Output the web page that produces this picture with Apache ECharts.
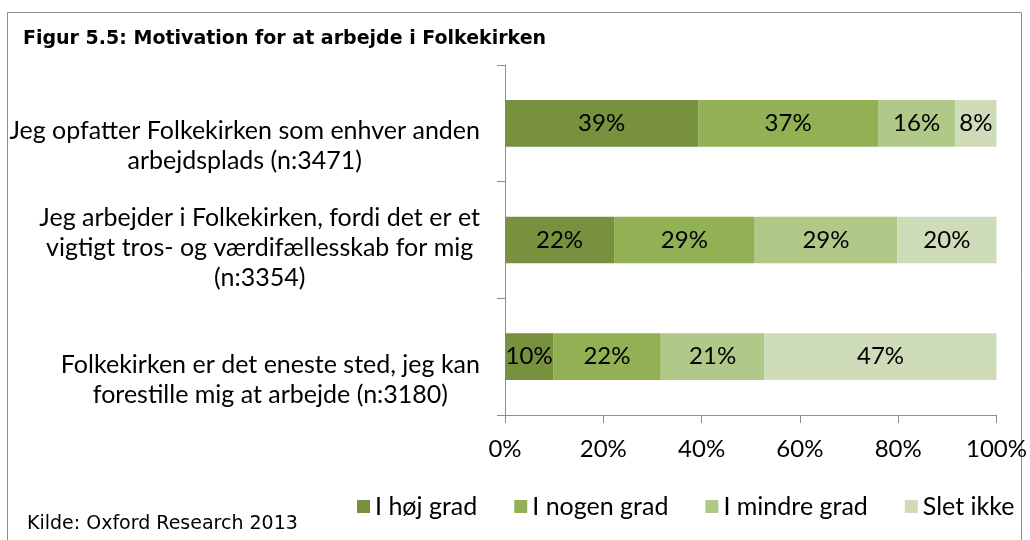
<!DOCTYPE html>
<html>
<head>
<meta charset="utf-8">
<script src="https://cdn.jsdelivr.net/npm/echarts@6/dist/echarts.min.js"></script>
<style>
html,body{margin:0;padding:0;background:#fff;}
#chart{width:1030px;height:540px;}
</style>
</head>
<body>
<div id="chart"></div>
<script>
var categories = [
	"Jeg opfatter Folkekirken som enhver anden\narbejdsplads (n:3471)",
	"Jeg arbejder i Folkekirken, fordi det er et\nvigtigt tros- og værdifællesskab for mig\n(n:3354)",
	"Folkekirken er det eneste sted, jeg kan\nforestille mig at arbejde (n:3180)"
];
var seriesNames = ["I høj grad", "I nogen grad", "I mindre grad", "Slet ikke"];
var hoejGrad = [39.3, 22.2, 9.8];
var nogenGrad = [36.6, 28.6, 21.9];
var mindreGrad = [15.7, 29.0, 21.1];
var sletIkke = [8.4, 20.2, 47.2];
var xTicks = [0, 20, 40, 60, 80, 100];

var colors = ["#78913F", "#92B054", "#B0C888", "#CEDCBA"];
var axisGray = "#8C8C8C";
var labelFont = "Lato";
var labelSize = 24;

//hver serie som et stablet vandret søjlestykke
function makeSeries(name, data, color) {
	return {
		name: name,
		type: 'bar',
		stack: 'total',
		barCategoryGap: '60%',
		itemStyle: { color: color },
		label: {
			show: true,
			position: 'inside',
			color: '#000',
			fontFamily: labelFont,
			fontSize: labelSize,
			formatter: function (p) { return Math.round(p.value) + '%'; }
		},
		data: data
	};
}

var myChart = echarts.init(document.getElementById('chart'));
var option = {
	animation: false,
	color: colors,
	title: [
		{
			text: 'Figur 5.5: Motivation for at arbejde i Folkekirken',
			left: 23,
			top: 30,
			padding: 0,
			textStyle: { fontFamily: 'DejaVu Sans', fontWeight: 'bold', fontSize: 19, color: '#000' }
		},
		{
			text: 'Kilde: Oxford Research 2013',
			left: 27,
			top: 515,
			padding: 0,
			textStyle: { fontFamily: 'DejaVu Sans', fontWeight: 'normal', fontSize: 19, color: '#000' }
		}
	],
	graphic: [
		{
			type: 'rect',
			shape: { x: 7.5, y: 12.5, width: 1014, height: 540 },
			style: { fill: 'none', stroke: '#8C8C8C', lineWidth: 1 }
		}
	],
	legend: {
		left: 352,
		top: 489,
		itemWidth: 13,
		itemHeight: 13,
		itemGap: 37,
		icon: 'rect',
		textStyle: { fontFamily: labelFont, fontSize: 25, color: '#000' },
		data: seriesNames
	},
	grid: {
		left: 505,
		right: 33,
		top: 65,
		bottom: 125
	},
	xAxis: {
		type: 'value',
		min: 0,
		max: 100,
		interval: 20,
		axisLine: { show: true, lineStyle: { color: axisGray } },
		axisTick: { show: true, length: 8, lineStyle: { color: axisGray } },
		splitLine: { show: false },
		axisLabel: {
			margin: 22,
			fontFamily: labelFont,
			fontSize: labelSize,
			color: '#000',
			formatter: function (v) { return xTicks.indexOf(v) >= 0 ? v + '%' : ''; }
		}
	},
	yAxis: {
		type: 'category',
		inverse: true,
		data: categories,
		axisLine: { show: true, lineStyle: { color: axisGray } },
		axisTick: { show: true, length: 8, interval: 0, lineStyle: { color: axisGray } },
		axisLabel: {
			interval: 0,
			hideOverlap: false,
			margin: 25,
			formatter: function (v) {
				var lines = v.split('\n');
				var out = lines.length > 2 ? '{g3| }' : '{g2| }';
				for (var i = 0; i < lines.length; i++) {
					out += '\n{t|' + lines[i] + '}';
				}
				return out;
			},
			rich: {
				g2: { lineHeight: 46, height: 46, fontSize: 1 },
				g3: { lineHeight: 16, height: 16, fontSize: 1 },
				t: { align: 'center', lineHeight: 30, fontFamily: labelFont, fontSize: 25, color: '#000' }
			}
		}
	},
	series: [
		makeSeries(seriesNames[0], hoejGrad, colors[0]),
		makeSeries(seriesNames[1], nogenGrad, colors[1]),
		makeSeries(seriesNames[2], mindreGrad, colors[2]),
		makeSeries(seriesNames[3], sletIkke, colors[3])
	]
};
myChart.setOption(option, true);
</script>
</body>
</html>
